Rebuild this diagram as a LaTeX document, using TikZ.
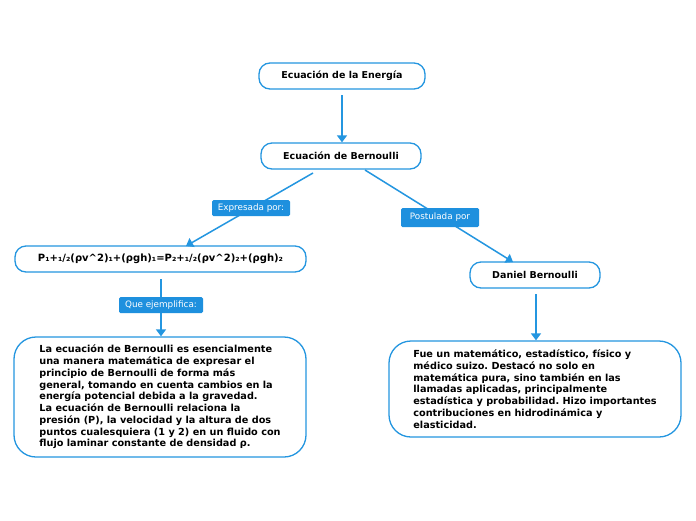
\documentclass[tikz,border=0pt]{standalone}
\usepackage{fontspec}
\setmainfont{DejaVu Sans}
\usetikzlibrary{arrows.meta}
\definecolor{mblue}{RGB}{36,150,224}
\definecolor{lblue}{RGB}{30,144,222}
\tikzset{
  topic/.style={draw=mblue, line width=1.3pt, rounded corners=11pt, fill=white,
    font=\fontsize{9.5}{11}\selectfont\bfseries, inner sep=0pt, minimum height=26pt},
  bigbox/.style={draw=mblue, line width=1.3pt, rounded corners=22pt, fill=white,
    font=\fontsize{9.7}{11.75}\selectfont\bfseries, align=left, inner sep=0pt},
  conn/.style={draw=mblue, line width=1.5pt, -{Triangle[width=10pt,length=7pt]}},
  lab/.style={fill=lblue, text=white, rounded corners=1.5pt, font=\fontsize{8.8}{10}\selectfont,
    inner sep=0pt, minimum height=16pt}
}
\begin{document}
\frenchspacing
\begin{tikzpicture}[x=1pt,y=-1pt]
\useasboundingbox[fill=white] (0,0) rectangle (696,520);
\node[topic, minimum width=166pt] (ene) at (342,76) {Ecuación de la Energía};
\node[topic, minimum width=160pt] (ber) at (341,156) {Ecuación de Bernoulli};
\node[topic, minimum width=291pt, font=\fontsize{10}{11}\selectfont\bfseries] (eq) at (160.5,259) {P₁+₁/₂(ρv\textasciicircum 2)₁+(ρgh)₁=P₂+₁/₂(ρv\textasciicircum 2)₂+(ρgh)₂};
\node[topic, minimum width=130pt] (dan) at (535,275) {Daniel Bernoulli};
\node[bigbox, minimum width=292pt, minimum height=120pt] (lt) at (160,397) {La ecuación de Bernoulli es esencialmente\\una manera matemática de expresar el\\principio de Bernoulli de forma más\\general, tomando en cuenta cambios en la\\energía potencial debida a la gravedad.\\La ecuación de Bernoulli relaciona la\\presión (P), la velocidad y la altura de dos\\puntos cualesquiera (1 y 2) en un fluido con\\flujo laminar constante de densidad ρ.};
\node[bigbox, minimum width=292pt, minimum height=96pt] (rt) at (535,389) {Fue un matemático, estadístico, físico y\\médico suizo. Destacó no solo en\\matemática pura, sino también en las\\llamadas aplicadas, principalmente\\estadística y probabilidad. Hizo importantes\\contribuciones en hidrodinámica y\\elasticidad.};
\coordinate (s1) at (342,95);
\coordinate (s2) at (313,173);
\coordinate (e2) at (186,246);
\coordinate (s3) at (365,170);
\coordinate (e3) at (513,262);
\coordinate (s4) at (161,279);
\coordinate (s5) at (536,294);
\draw[conn] (s1) -- (ber.north -| s1);
\draw[conn] (s2) -- (e2);
\draw[conn] (s3) -- (e3);
\draw[conn] (s4) -- (lt.north -| s4);
\draw[conn] (s5) -- (rt.north -| s5);
\node[lab, minimum width=78pt] (l1) at (251,208) {Expresada por:};
\node[lab, minimum width=78pt, minimum height=19pt] (l2) at (440,217.5) {Postulada por\hspace{10pt}};
\node[lab, minimum width=84pt] (l3) at (161,305) {Que ejemplifica:};
\end{tikzpicture}
\end{document}
